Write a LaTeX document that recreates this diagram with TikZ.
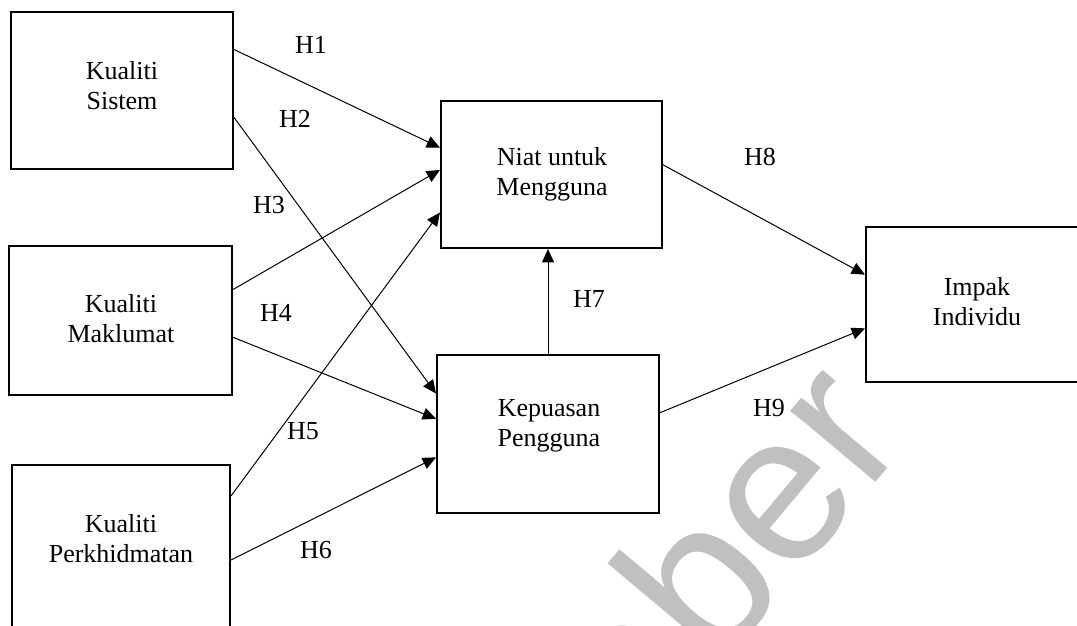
\documentclass[tikz,border=0pt]{standalone}
\usepackage{fontspec}
\setmainfont{Liberation Serif}
\newfontfamily\wmfont{Liberation Sans}
\usetikzlibrary{arrows.meta,calc}
\definecolor{wmgray}{RGB}{192,192,192}
\begin{document}
\begin{tikzpicture}[x=0.75pt,y=-0.75pt,
  box/.style={draw,line width=1.5pt,inner sep=0pt},
  txt/.style={align=center,inner sep=0pt,font=\fontsize{19.5pt}{22.5pt}\selectfont},
  hyp/.style={inner sep=0pt,font=\fontsize{19.5pt}{22.5pt}\selectfont},
  link/.style={line width=0.75pt,-{Triangle[length=10pt,width=9pt]}}]
\useasboundingbox (0,0) rectangle (1077,625);
\begin{scope}
\clip (0,0) rectangle (1077,625);
% construct boxes
\node[box,minimum width=166.5pt,minimum height=117.75pt] (ks) at (122,90.5) {};
\node[box,minimum width=167.25pt,minimum height=111.75pt] (km) at (120.5,320.5) {};
\node[box,minimum width=163.5pt,minimum height=131.25pt] (kp) at (121,552.5) {};
\node[box,minimum width=165.75pt,minimum height=110.25pt] (num) at (551.5,174.5) {};
\node[box,minimum width=166.5pt,minimum height=118.5pt] (kpg) at (548,434) {};
\node[box,minimum width=168pt,minimum height=116.25pt] (ii) at (978,304.5) {};
% box captions
\node[txt] (ks-t) at (122,86) {Kualiti\\Sistem};
\node[txt] (km-t) at (121,319) {Kualiti\\Maklumat};
\node[txt] (kp-t) at (121,539) {Kualiti\\Perkhidmatan};
\node[txt] (num-t) at (552,174.5) {Niat untuk\\Mengguna};
\node[txt] (kpg-t) at (549,426) {Kepuasan\\Pengguna};
\node[txt] (ii-t) at (977,302) {Impak\\Individu};
% hypothesis paths
\draw[link] ($(ks.north east)!0.242!(ks.south east)$) -- ($(num.north west)!0.32!(num.south west)$);
\draw[link] ($(ks.north east)!0.669!(ks.south east)$) -- ($(kpg.north west)!0.247!(kpg.south west)$);
\draw[link] ($(km.north east)!0.295!(km.south east)$) -- ($(num.north west)!0.469!(num.south west)$);
\draw[link] ($(km.north east)!0.611!(km.south east)$) -- ($(kpg.north west)!0.405!(kpg.south west)$);
\draw[link] ([yshift=-24pt]kp.north east) -- ($(num.north west)!0.755!(num.south west)$);
\draw[link] ([yshift=-72pt]kp.north east) -- ($(kpg.north west)!0.646!(kpg.south west)$);
\draw[link] (kpg.north) -- (kpg.north |- num.south);
\draw[link] ($(num.north east)!0.435!(num.south east)$) -- ($(ii.north west)!0.31!(ii.south west)$);
\draw[link] ($(kpg.north east)!0.367!(kpg.south east)$) -- ($(ii.north west)!0.652!(ii.south west)$);
% hypothesis labels
\node[hyp] (h1) at (311,45) {H1};
\node[hyp] (h2) at (295,119) {H2};
\node[hyp] (h3) at (269,205) {H3};
\node[hyp] (h4) at (276,313) {H4};
\node[hyp] (h5) at (303,431) {H5};
\node[hyp] (h6) at (316,550) {H6};
\node[hyp] (h7) at (589,299) {H7};
\node[hyp] (h8) at (760,157) {H8};
\node[hyp] (h9) at (769,408) {H9};
% watermark
\node[anchor=base,rotate=50,inner sep=0pt,text=wmgray,font=\wmfont\fontsize{157.5pt}{157.5pt}\selectfont] (wm) at (776,601) {aber};
\end{scope}
\end{tikzpicture}
\end{document}
